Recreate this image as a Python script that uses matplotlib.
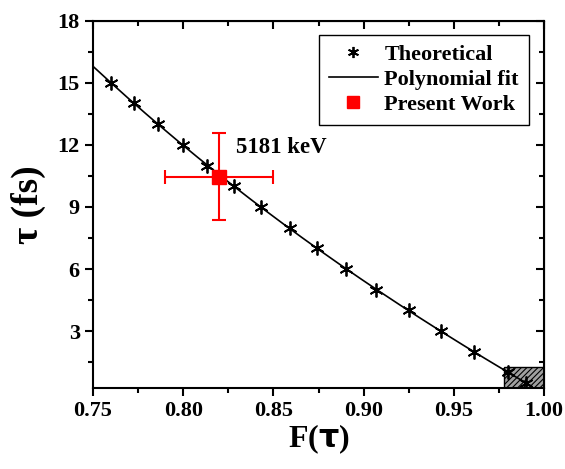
import numpy as np
import matplotlib.pyplot as plt
from matplotlib.patches import Rectangle
from matplotlib.lines import Line2D

plt.rcParams['font.family'] = ['Liberation Serif', 'DejaVu Serif']
plt.rcParams['font.weight'] = 'bold'
plt.rcParams['hatch.linewidth'] = 0.8

# theoretical lifetime vs. F(tau)
F_theory = [0.760, 0.7727, 0.786, 0.800, 0.813, 0.828, 0.843, 0.859,
            0.874, 0.890, 0.907, 0.925, 0.943, 0.961, 0.980, 0.990]
tau_theory = [15, 14, 13, 12, 11, 10, 9, 8, 7, 6, 5, 4, 3, 2, 1, 0.5]

# measured point
F_meas = 0.820
F_err = 0.030
tau_meas = 10.45
tau_err = 2.1
label_meas = '5181 keV'

# shaded sensitivity region
box_F = (0.978, 1.0)
box_tau = (0.25, 1.25)

fig = plt.figure(figsize=(5.65, 4.69), dpi=100)
ax = fig.add_axes([0.1646, 0.1727, 0.7984, 0.7832])

star = (6, 2, 0)

coef = np.polyfit(F_theory, tau_theory, 3)
Ffit = np.linspace(0.75, 0.99, 200)
ax.plot(Ffit, np.polyval(coef, Ffit), color='black', lw=1.2)
ax.plot(F_theory, tau_theory, ls='none', marker=star, ms=10, mew=1.3,
        color='black')

ax.add_patch(Rectangle((box_F[0], box_tau[0]), box_F[1] - box_F[0],
                       box_tau[1] - box_tau[0], facecolor='#a0a0a0',
                       edgecolor='black', hatch='//////', lw=1.0, zorder=1))

ax.errorbar(F_meas, tau_meas, xerr=F_err, yerr=tau_err, fmt='s', ms=10,
            color='red', ecolor='red', elinewidth=1.5, capsize=5, capthick=1.5,
            zorder=5)
ax.text(0.829, 11.85, label_meas, fontsize=16.5, fontweight='bold', va='center')

ax.set_xlim(0.75, 1.0)
ax.set_ylim(0.25, 18)
ax.set_xticks([0.75, 0.80, 0.85, 0.90, 0.95, 1.00])
ax.set_xticklabels(['0.75', '0.80', '0.85', '0.90', '0.95', '1.00'])
ax.set_xticks(np.arange(0.775, 1.0, 0.05), minor=True)
ax.set_yticks([3, 6, 9, 12, 15, 18])
ax.set_yticks([1.5, 4.5, 7.5, 10.5, 13.5, 16.5], minor=True)
ax.tick_params(which='both', labelsize=16, width=1.5)
ax.tick_params(which='major', length=6)
ax.tick_params(which='minor', length=3.5)
for s in ax.spines.values():
    s.set_linewidth(1.5)

# mirrored ticks pointing inward on top and right
top = ax.secondary_xaxis('top')
top.set_xticks([0.75, 0.80, 0.85, 0.90, 0.95, 1.00])
top.set_xticks(np.arange(0.775, 1.0, 0.05), minor=True)
top.tick_params(which='both', direction='in', labeltop=False, width=1.5)
top.tick_params(which='major', length=6)
top.tick_params(which='minor', length=3.5)
right = ax.secondary_yaxis('right')
right.set_yticks([3, 6, 9, 12, 15, 18])
right.set_yticks([1.5, 4.5, 7.5, 10.5, 13.5, 16.5], minor=True)
right.tick_params(which='both', direction='in', labelright=False, width=1.5)
right.tick_params(which='major', length=6)
right.tick_params(which='minor', length=3.5)

ax.set_xlabel(r'F($\mathbf{\tau}$)', fontsize=23, fontweight='bold', labelpad=1)
ax.set_ylabel('τ (fs)', fontsize=27, fontweight='bold', labelpad=8)

handles = [
    Line2D([], [], ls='none', marker=star, ms=8, mew=1.3, color='black'),
    Line2D([], [], color='black', lw=1.2),
    Line2D([], [], ls='none', marker='s', ms=9, color='red'),
]
labels = ['Theoretical', 'Polynomial fit', 'Present Work']
leg = ax.legend(handles, labels, loc='upper right',
                bbox_to_anchor=(0.966, 0.962), borderaxespad=0, fontsize=16,
                fancybox=False, edgecolor='black', framealpha=1,
                handlelength=2.2, handletextpad=0.3, borderpad=0.45,
                labelspacing=0.2)
leg.get_frame().set_linewidth(1.0)

fig.savefig('out.png', dpi=100)
